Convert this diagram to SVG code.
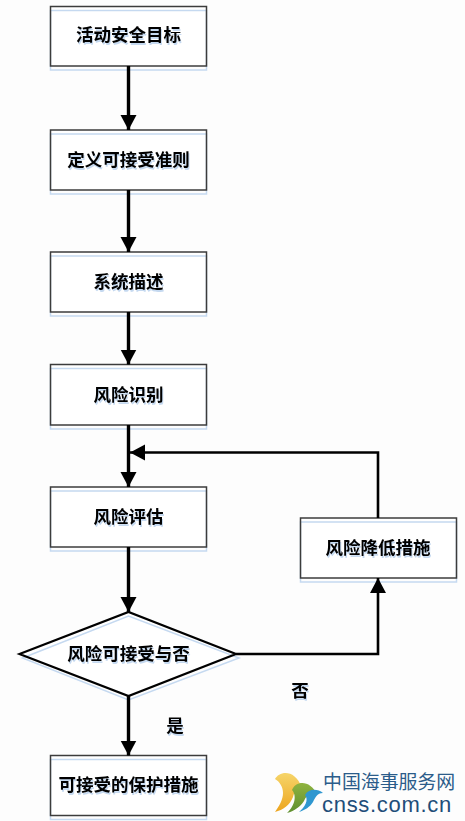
<svg xmlns="http://www.w3.org/2000/svg" width="465" height="821" viewBox="0 0 465 821">
<style>
.n{fill:#fff}
.b{fill:none;stroke:#3c3c3c;stroke-width:1.5}
.s{fill:none;stroke:#c5d9f0;stroke-width:1.5}
.t{font-family:"Noto Sans CJK SC","Liberation Sans",sans-serif;font-size:17.500px;font-weight:700;fill:#000;text-anchor:middle;filter:drop-shadow(1px 2px 0 #c5d9f0)}
.c{fill:none;stroke:#000;stroke-width:3.400}
.c2{fill:none;stroke:#000;stroke-width:2.600}
.l{font-family:"Noto Sans CJK SC","Liberation Sans",sans-serif;font-size:18.900px;fill:#2b5c8a}
.e{font-family:"Liberation Sans",sans-serif;font-size:22px;fill:#1f4e79;letter-spacing:.7px}
</style>
<defs>
<marker id="a" markerUnits="userSpaceOnUse" markerWidth="16" markerHeight="17" refX="15" refY="8" orient="auto"><path d="M0 0L15 8L0 16Z" fill="#000"/></marker>
<linearGradient id="g1" x1="0" y1="0" x2="0" y2="1"><stop offset="0" stop-color="#f6d56a"/><stop offset="1" stop-color="#eda51f"/></linearGradient>
<linearGradient id="g2" x1="0" y1="0" x2="0" y2="1"><stop offset="0" stop-color="#8fb33f"/><stop offset="1" stop-color="#5f8f2f"/></linearGradient>
</defs>
<rect width="465" height="821" fill="#fdfdfd"/>
<g id="n1"><rect class="n" x="50.500" y="6.500" width="156" height="59.500"/><rect class="s" x="50.500" y="10.500" width="156" height="59.500"/><rect class="b" x="50.500" y="6.500" width="156" height="59.500"/><text class="t" x="128.500" y="41">活动安全目标</text></g>
<g id="n2"><rect class="n" x="50.500" y="130" width="156" height="60"/><rect class="s" x="50.500" y="134" width="156" height="60"/><rect class="b" x="50.500" y="130" width="156" height="60"/><text class="t" x="128.500" y="166">定义可接受准则</text></g>
<g id="n3"><rect class="n" x="50.500" y="252" width="156" height="60"/><rect class="s" x="50.500" y="256" width="156" height="60"/><rect class="b" x="50.500" y="252" width="156" height="60"/><text class="t" x="128.500" y="288">系统描述</text></g>
<g id="n4"><rect class="n" x="50.500" y="364.500" width="156" height="60.500"/><rect class="s" x="50.500" y="368.500" width="156" height="60.500"/><rect class="b" x="50.500" y="364.500" width="156" height="60.500"/><text class="t" x="128.500" y="401">风险识别</text></g>
<g id="n5"><rect class="n" x="50.500" y="487" width="156" height="60"/><rect class="s" x="50.500" y="491" width="156" height="60"/><rect class="b" x="50.500" y="487" width="156" height="60"/><text class="t" x="128.500" y="523">风险评估</text></g>
<g id="n6"><rect class="n" x="300.500" y="518" width="156" height="60"/><rect class="s" x="300.500" y="522" width="156" height="60"/><rect class="b" x="300.500" y="518" width="156" height="60"/><text class="t" x="378" y="554">风险降低措施</text></g>
<g id="n7"><path class="n" d="M19.500 654L128.500 612L236 654L128.500 696Z"/><path class="s" d="M22.500 658L128.500 616L239 658L128.500 700Z" stroke-width="2"/><path d="M19.500 654L128.500 612L236 654L128.500 696Z" fill="none" stroke="#000" stroke-width="2.200"/><text class="t" x="128.500" y="660">风险可接受与否</text></g>
<g id="n8"><rect class="n" x="50.500" y="755.500" width="156" height="60"/><rect class="s" x="50.500" y="759.500" width="156" height="60"/><rect class="b" x="50.500" y="755.500" width="156" height="60"/><text class="t" x="128.500" y="791">可接受的保护措施</text></g>
<g id="connectors">
<path class="c" d="M128.500 66V130" marker-end="url(#a)"/>
<path class="c" d="M128.500 190V252" marker-end="url(#a)"/>
<path class="c" d="M128.500 312V364.500" marker-end="url(#a)"/>
<path class="c" d="M128.500 425V487" marker-end="url(#a)"/>
<path class="c" d="M128.500 547V612" marker-end="url(#a)"/>
<path class="c" d="M128.500 696V755.500" marker-end="url(#a)"/>
<path class="c2" d="M236 654H378V578" marker-end="url(#a)"/>
<path class="c2" d="M378 518V452.500H130" marker-end="url(#a)"/>
</g>
<text class="t" x="300" y="697">否</text>
<text class="t" x="175" y="732">是</text>
<g id="logo">
<path d="M275 779C279 771 295 768 302 788C297 788 294 792 293 797C290 805 283 810 275 812C279 806 283 800 283 793C283 787 280 782 275 779Z" fill="url(#g1)"/>
<path d="M292 790C296 780 311 780 317 795C310 792 306 796 304 801C300 807 294 811 287 813C293 808 298 797 292 790Z" fill="url(#g2)"/>
<path d="M305 795C309 788 318 789 323 793C317 793 315 798 313 802C310 807 305 810 299 812C305 807 309 800 305 795Z" fill="#2f97d0"/>
<text class="l" x="323" y="789">中国海事服务网</text>
<text class="e" x="322" y="811.500">cnss.com.cn</text>
</g>
</svg>
